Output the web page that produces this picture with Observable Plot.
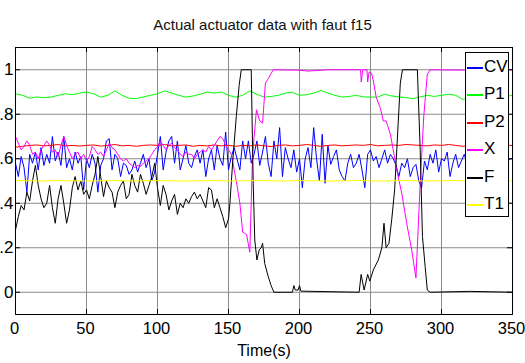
<!DOCTYPE html>
<html><head><meta charset="utf-8">
<script src="https://cdn.jsdelivr.net/npm/d3@7"></script>
<script src="https://cdn.jsdelivr.net/npm/@observablehq/plot@0.6"></script>
<style>
body{margin:0;background:#fff;font-family:"Liberation Sans",Arial,sans-serif;}
#wrap{position:relative;width:525px;height:363px;overflow:hidden;}
#title{height:38px;box-sizing:border-box;padding-top:17px;font-size:15px;line-height:15px;text-align:center;color:#111;white-space:nowrap;}
#legend{position:absolute;left:465px;top:52px;width:44px;height:165px;box-sizing:border-box;border:1px solid #000;background:#fff;}
.sw{position:absolute;left:1px;width:16px;height:2px;}
.lb{position:absolute;left:18px;height:20px;line-height:20px;font-size:17px;color:#000;}
</style></head><body>
<div id="wrap"><div id="title">Actual actuator data with faut f15</div><div id="chart"></div><div id="legend"></div></div>
<script>
const xTicks = [0, 50, 100, 150, 200, 250, 300, 350];
const yTicks = [0, 0.2, 0.4, 0.6, 0.8, 1];
const seriesNames = ["CV", "P1", "P2", "X", "F", "T1"];
const seriesColors = ["#0000ff", "#00ff00", "#ff0000", "#ff00ff", "#000000", "#ffff00"];

// CV, sampled every 2 s from t = 0
const cvStep = 2;
const cvValues = [
 0.58,0.52,0.61,0.56,0.45,0.62,0.58,0.63,0.55,0.65,
 0.57,0.62,0.58,0.70,0.59,0.63,0.57,0.70,0.56,0.60,
 0.55,0.63,0.58,0.61,0.46,0.60,0.56,0.62,0.58,0.45,
 0.57,0.60,0.68,0.69,0.55,0.62,0.60,0.52,0.58,0.57,
 0.53,0.55,0.59,0.54,0.58,0.62,0.56,0.60,0.50,0.54,
 0.62,0.70,0.55,0.63,0.68,0.70,0.58,0.68,0.55,0.60,
 0.66,0.58,0.56,0.61,0.64,0.58,0.64,0.52,0.60,0.64,
 0.55,0.66,0.60,0.57,0.72,0.55,0.61,0.65,0.60,0.55,
 0.68,0.60,0.68,0.58,0.62,0.68,0.57,0.63,0.70,0.58,
 0.52,0.68,0.60,0.74,0.52,0.65,0.60,0.56,0.64,0.54,
 0.60,0.47,0.60,0.65,0.56,0.74,0.60,0.50,0.71,0.49,
 0.66,0.575,0.61,0.64,0.55,0.52,0.50,0.58,0.62,0.56,
 0.58,0.62,0.55,0.47,0.62,0.64,0.59,0.61,0.56,0.60,
 0.64,0.58,0.62,0.60,0.57,0.52,0.58,0.56,0.60,0.52,
 0.56,0.575,0.50,0.47,0.59,0.55,0.62,0.58,0.64,0.54,
 0.60,0.59,0.63,0.52,0.58,0.62,0.56,0.59,0.62,0.58,
 0.54,0.60,0.56,0.62,0.58,0.63,0.55,0.61,0.57,0.64,
 0.59,0.56,0.62,0.58,0.60,0.60
];

// P1 and P2, every 5 s
const p1Step = 5;
const p1Values = [
 0.892,0.885,0.872,0.878,0.874,0.877,0.885,0.892,0.888,0.895,
 0.900,0.892,0.877,0.885,0.905,0.885,0.872,0.870,0.878,0.885,
 0.892,0.905,0.895,0.885,0.877,0.882,0.890,0.900,0.895,0.900,
 0.885,0.877,0.885,0.905,0.890,0.877,0.880,0.885,0.895,0.900,
 0.885,0.888,0.895,0.907,0.895,0.885,0.877,0.880,0.885,0.878,
 0.877,0.877,0.890,0.882,0.878,0.875,0.870,0.878,0.885,0.880,
 0.885,0.890,0.885,0.867,0.875,0.880,0.885,0.880,0.885,0.880,
 0.885
];
const p2Step = 5;
const p2Values = [
 0.652,0.656,0.660,0.662,0.658,0.660,0.664,0.658,0.660,0.657,
 0.660,0.662,0.657,0.660,0.664,0.658,0.660,0.656,0.660,0.662,
 0.660,0.664,0.658,0.660,0.662,0.656,0.660,0.658,0.662,0.658,
 0.660,0.656,0.660,0.658,0.662,0.658,0.655,0.660,0.662,0.658,
 0.660,0.664,0.660,0.656,0.660,0.662,0.658,0.660,0.662,0.660,
 0.664,0.658,0.660,0.662,0.660,0.664,0.662,0.660,0.658,0.662,
 0.660,0.664,0.660,0.656,0.660,0.662,0.660,0.658,0.662,0.660,
 0.660
];

// T1, every 10 s
const t1Step = 10;
const t1Values = [
 0.502,0.501,0.500,0.502,0.501,0.500,0.501,0.502,0.500,0.501,
 0.502,0.501,0.500,0.501,0.502,0.500,0.501,0.502,0.501,0.500,
 0.502,0.501,0.500,0.501,0.502,0.501,0.500,0.502,0.501,0.500,
 0.501,0.502,0.500,0.501,0.502,0.501
];

// X: noisy part every 2 s (t = 0..154), then the fault episode
const xStep = 2;
const xNoise = [
 0.70,0.67,0.64,0.655,0.68,0.66,0.62,0.63,0.60,0.64,
 0.66,0.68,0.66,0.63,0.64,0.61,0.66,0.70,0.66,0.63,
 0.60,0.62,0.63,0.60,0.62,0.59,0.61,0.655,0.64,0.62,
 0.63,0.61,0.64,0.67,0.65,0.64,0.62,0.60,0.59,0.60,
 0.58,0.57,0.56,0.57,0.565,0.58,0.59,0.60,0.62,0.64,
 0.655,0.68,0.66,0.64,0.66,0.67,0.65,0.64,0.62,0.61,
 0.63,0.62,0.62,0.60,0.62,0.63,0.64,0.63,0.655,0.64,
 0.66,0.68,0.70,0.69,0.66,0.64,0.62,0.55
];
const xEventTimes  = [156,158,160,162.7,165,167,169.7,172,174,176,178,181.5,200,206,220,243,243.5,244.5,247.5,248,249,250.7,252,254,257,259,261,262,264,266,268.5,272,275.5,279,282,285,287.5,290,292,320,350];
const xEventValues = [0.48,0.40,0.27,0.26,0.18,0.62,0.82,0.77,0.76,0.94,0.96,1.0,0.998,0.994,1.0,1.0,0.945,1.0,1.0,0.945,0.99,0.985,0.95,0.877,0.826,0.77,0.77,0.75,0.71,0.64,0.55,0.445,0.31,0.19,0.064,0.49,0.79,0.98,1.0,0.998,1.0];

// F: noisy part every 2 s (t = 0..148), then the fault episode
const fStep = 2;
const fNoise = [
 0.28,0.34,0.39,0.37,0.45,0.41,0.50,0.57,0.48,0.42,
 0.38,0.40,0.48,0.38,0.31,0.42,0.48,0.40,0.31,0.37,
 0.47,0.52,0.46,0.50,0.44,0.46,0.42,0.48,0.53,0.61,
 0.52,0.43,0.50,0.47,0.45,0.38,0.45,0.48,0.50,0.42,
 0.44,0.53,0.48,0.45,0.53,0.49,0.44,0.48,0.52,0.58,
 0.47,0.39,0.48,0.44,0.37,0.41,0.44,0.35,0.40,0.38,
 0.42,0.40,0.43,0.45,0.42,0.44,0.41,0.38,0.47,0.46,
 0.38,0.42,0.38,0.34,0.29
];
const fEventTimes  = [150,151,153,155.5,157.5,159,166,167.4,168.5,170,171.6,173,174,175.5,178,180,182,195,196,197,199,200,201,242,243.4,245.5,248,249.5,252,255.5,258,259.5,261,263,265,267,268.5,271,272.5,283,285,286.6,288.5,290,292,320,350];
const fEventValues = [0.33,0.40,0.59,0.79,0.93,1.0,1.0,0.49,0.235,0.145,0.19,0.20,0.22,0.13,0.07,0.03,0.0,0.0,0.03,0.01,0.01,0.03,0.005,0.0,0.08,0.01,0.08,0.05,0.10,0.145,0.20,0.31,0.20,0.22,0.33,0.46,0.64,0.94,1.0,1.0,0.64,0.25,0.115,0.01,0.0,0.004,0.0];

const fromStep = (vals, step) => vals.map((v, i) => ({t: i * step, v}));
const fromPairs = (ts, vs) => ts.map((t, i) => ({t, v: vs[i]}));

const seriesData = {
  CV: fromStep(cvValues, cvStep),
  P1: fromStep(p1Values, p1Step),
  P2: fromStep(p2Values, p2Step),
  X: fromStep(xNoise, xStep).concat(fromPairs(xEventTimes, xEventValues)),
  F: fromStep(fNoise, fStep).concat(fromPairs(fEventTimes, fEventValues)),
  T1: fromStep(t1Values, t1Step)
};

const fmt = d => d === 0 ? "0" : d === 1 ? "1" : String(d).replace(/^0/, "");

const chart = Plot.plot({
  width: 525,
  height: 325,
  marginLeft: 15,
  marginRight: 13,
  marginTop: 9,
  marginBottom: 49,
  style: {fontFamily: '"Liberation Sans", Arial, sans-serif', fontSize: "17px", color: "#000", background: "#fff"},
  x: {domain: [0, 350], label: null},
  y: {domain: [-0.1, 1.1], label: null},
  marks: [
    Plot.gridX(xTicks, {stroke: "#8a8a8a", strokeOpacity: 1}),
    Plot.gridY(yTicks, {stroke: "#8a8a8a", strokeOpacity: 1}),
    ...seriesNames.map((name, i) => Plot.line(seriesData[name], {x: "t", y: "v", stroke: seriesColors[i], strokeWidth: 1})),
    Plot.tickX(xTicks, {x: d => d, stroke: "#000", insetBottom: 262}),
    Plot.tickX(xTicks, {x: d => d, stroke: "#000", insetTop: 262}),
    Plot.tickY(yTicks, {y: d => d, stroke: "#000", insetRight: 492}),
    Plot.tickY(yTicks, {y: d => d, stroke: "#000", insetLeft: 492}),
    Plot.frame({stroke: "#000"}),
    Plot.axisX({ticks: xTicks, tickSize: 0, tickPadding: 8, label: null, fontSize: 16.5, dx: -1}),
    Plot.axisY({ticks: yTicks, tickSize: 0, tickPadding: 2, tickFormat: fmt, label: null, fontSize: 17}),
    Plot.text(["Time(s)"], {frameAnchor: "bottom", dy: 41, fontSize: 16, fill: "#000"})
  ]
});
document.getElementById("chart").appendChild(chart);

const legend = document.getElementById("legend");
seriesNames.forEach((name, i) => {
  const cy = Math.round(13.5 + 27.5 * i);
  const sw = document.createElement("div");
  sw.className = "sw";
  sw.style.top = cy + "px";
  sw.style.backgroundColor = seriesColors[i];
  legend.appendChild(sw);
  const lb = document.createElement("div");
  lb.className = "lb";
  lb.style.top = (cy - 10) + "px";
  lb.textContent = name;
  legend.appendChild(lb);
});
</script>
</body></html>
